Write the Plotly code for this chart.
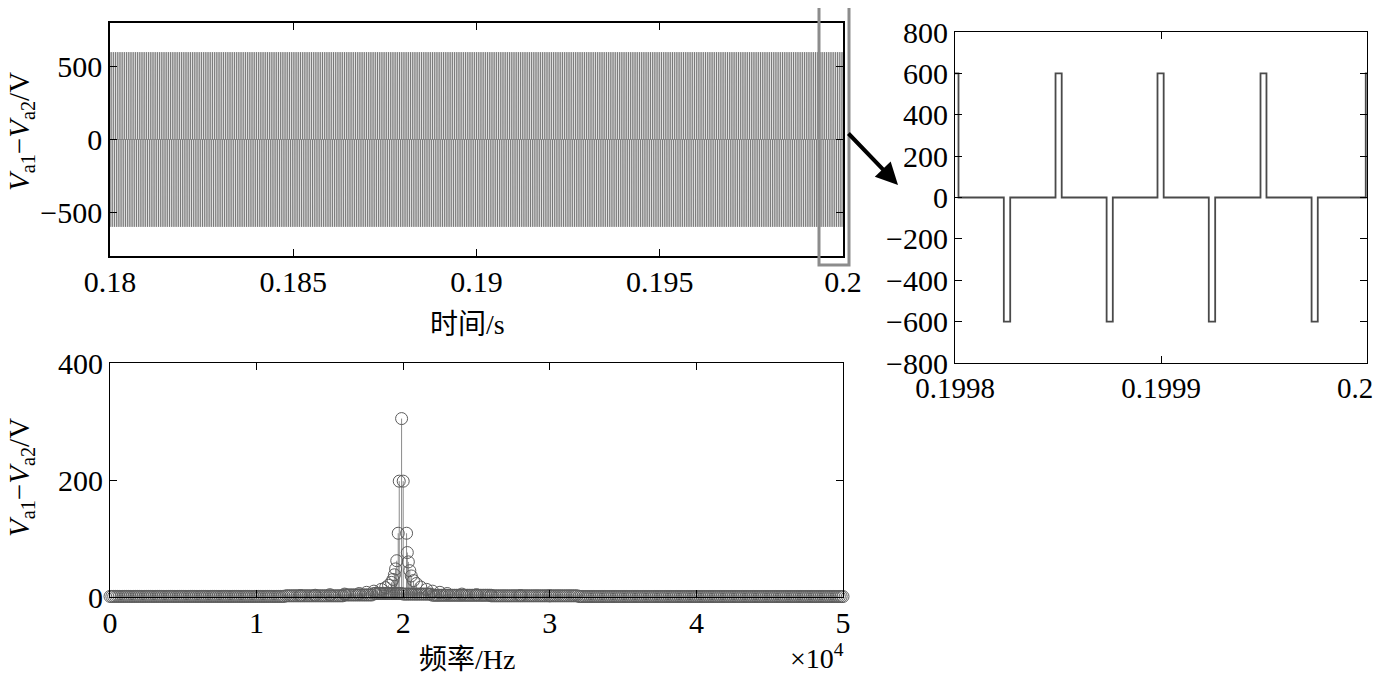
import plotly.graph_objects as go

W, H = 1384, 675
OFF = 8                      # page body margin in the viewer
FW, FH = W - OFF, H - OFF


def fx(x):
    return (x - OFF) / FW


def fy(y):
    return 1 - (y - OFF) / FH


# ---------------- data ----------------
# Time-domain pulse train (V_a1 - V_a2): alternating +/-600 V pulses, 25 us apart
pulse_amp_v = 600
pulse_spacing_us = 25.0              # +pulse, -pulse, +pulse ... (20 kHz carrier)
pulse_widths_us = [3.2, 3.0, 3.0, 3.1, 2.9, 3.0, 2.9, 3.0]   # read in the zoom panel
window_start_s = 0.18
window_end_s = 0.2

# Zoom panel (0.1998 .. 0.2 s) pulse edges, microseconds after 0.1998 s
zoom_origin_s = 0.1998
zoom_pos_pulses_us = [(-1.5, 1.7), (48.8, 51.8), (98.3, 101.3), (148.3, 151.2), (199.4, 202.5)]
zoom_neg_pulses_us = [(23.7, 26.8), (73.6, 76.6), (123.2, 126.3), (173.1, 176.1)]

# Spectrum: main cluster + skirt (Hz, V)
peak_freq_hz = [19890, 19730, 20000, 19660, 20230, 20280, 19560, 20350, 19480, 20450,
                19400, 20550, 19300, 20700, 19200, 20900, 19000, 21200, 18800, 21600,
                18500, 22000, 18000, 22500, 17500, 23000, 17000, 24000, 16000, 25000,
                15000, 26000, 14000, 28000, 13000, 30000]
peak_amp_v = [305, 198, 198, 109, 109, 76, 62, 60, 48, 45,
              38, 36, 30, 28, 25, 23, 20, 17, 16, 13,
              13, 10, 10, 8, 8, 6, 6, 5, 5, 4,
              4, 3, 3, 2.5, 2.5, 2]
# Baseline bins every 125 Hz from 0 to 50 kHz (run-length reading of the low band)
base_step_hz = 125
base_amp_runs = [(96, 1.0), (32, 2.0), (16, 3.5), (16, 6.0), (16, 5.0), (32, 3.0), (48, 2.0), (145, 0.8)]

# Tick labels
tl_x = [0.18, 0.185, 0.19, 0.195, 0.2]
tl_xtext = ["0.18", "0.185", "0.19", "0.195", "0.2"]
tl_y = [-500, 0, 500]
tl_ytext = ["\u2212500", "0", "500"]
tr_x = [0.1998, 0.1999, 0.2]
tr_xtext = ["0.1998", "0.1999", ""]       # last label drawn right-aligned below
tr_last_label = "0.2"
tr_y = [-800, -600, -400, -200, 0, 200, 400, 600, 800]
tr_ytext = ["\u2212800", "\u2212600", "\u2212400", "\u2212200", "0", "200", "400", "600", "800"]
b_x = [0, 10000, 20000, 30000, 40000, 50000]
b_xtext = ["0", "1", "2", "3", "4", "5"]
b_y = [0, 200, 400]
b_ytext = ["0", "200", "400"]

ylabel = "<i>V</i><sub>a1</sub>\u2212<i>V</i><sub>a2</sub>/V"

# ---------------- build traces ----------------
def pulses_to_xy(pulses):
    xs, ys = [], []
    for t0, t1, a in pulses:
        xs += [t0, t0, t1, t1]
        ys += [0, a, a, 0]
    return xs, ys

n_pulses = int(round((window_end_s - window_start_s) * 1e6 / pulse_spacing_us)) + 1
big = []
for k in range(n_pulses):
    c = window_start_s + k * pulse_spacing_us * 1e-6
    w = pulse_widths_us[k % len(pulse_widths_us)] * 1e-6
    a = pulse_amp_v if k % 2 == 0 else -pulse_amp_v
    big.append((c - w / 2, c + w / 2, a))
bx, by = pulses_to_xy(big)

zp = [(zoom_origin_s + a * 1e-6, zoom_origin_s + b * 1e-6, pulse_amp_v) for a, b in zoom_pos_pulses_us]
zn = [(zoom_origin_s + a * 1e-6, zoom_origin_s + b * 1e-6, -pulse_amp_v) for a, b in zoom_neg_pulses_us]
zall = sorted(zp + zn)
zx, zy = pulses_to_xy(zall)

base_amp = []
for n, v in base_amp_runs:
    base_amp += [v] * n
base_freq = [i * base_step_hz for i in range(len(base_amp))]

spec_f = base_freq + peak_freq_hz
spec_a = base_amp + peak_amp_v
stem_x, stem_y = [], []
for f, a in zip(spec_f, spec_a):
    stem_x += [f, f, None]
    stem_y += [0, a, None]

fig = go.Figure()
fig.add_trace(go.Scatter(x=bx, y=by, mode="lines", line=dict(color="#5e5e5e", width=0.6),
                         xaxis="x", yaxis="y", showlegend=False, hoverinfo="skip"))
fig.add_trace(go.Scatter(x=zx, y=zy, mode="lines", line=dict(color="#4a4a4a", width=1.8),
                         xaxis="x2", yaxis="y2", showlegend=False, hoverinfo="skip"))
fig.add_trace(go.Scatter(x=stem_x, y=stem_y, mode="lines", line=dict(color="#8a8a8a", width=1),
                         xaxis="x3", yaxis="y3", showlegend=False, hoverinfo="skip"))
fig.add_trace(go.Scatter(x=spec_f, y=spec_a, mode="markers", cliponaxis=False,
                         marker=dict(symbol="circle-open", size=12, color="#5c5c5c", line=dict(width=1)),
                         xaxis="x3", yaxis="y3", showlegend=False, hoverinfo="skip"))

FONT = "Liberation Serif, Times New Roman, Noto Sans CJK SC, serif"
TICKF = dict(family=FONT, size=30, color="black")


def ax(domain, rng, tv, tt, anchor, lw=1.5, standoff=0):
    return dict(domain=domain, range=rng, tickvals=tv, ticktext=tt, anchor=anchor,
                ticks="inside", ticklen=7, tickwidth=1, tickcolor="black",
                showline=True, linecolor="black", linewidth=lw, mirror="ticks",
                showgrid=False, zeroline=False, tickfont=TICKF, fixedrange=True,
                automargin=False, ticklabeloverflow="allow", ticklabelstandoff=standoff)


fig.update_layout(
    width=FW, height=FH, margin=dict(l=0, r=0, t=0, b=0, pad=0, autoexpand=False),
    paper_bgcolor="white", plot_bgcolor="white",
    xaxis=ax([fx(110), fx(843)], [0.18, 0.2], tl_x, tl_xtext, "y", 1.5, -2),
    yaxis=ax([fy(256), fy(23)], [-800, 800], tl_y, tl_ytext, "x", 1.5, 0),
    xaxis2=ax([fx(955), fx(1367)], [0.1998, 0.2], tr_x, tr_xtext, "y2", 1.0, -1),
    yaxis2=ax([fy(363), fy(32)], [-800, 800], tr_y, tr_ytext, "x2", 1.0, 0),
    xaxis3=ax([fx(110), fx(843)], [0, 50000], b_x, b_xtext, "y3", 1.0, -1),
    yaxis3=ax([fy(597), fy(363)], [0, 400], b_y, b_ytext, "x3", 1.0, 0),
)
fig.update_layout(xaxis2_tickfont_size=29)

# last tick label of the zoom panel, kept inside the page edge
fig.add_annotation(xref="paper", yref="paper", x=fx(1375), y=fy(388),
                   text=tr_last_label, showarrow=False, xanchor="right", yanchor="middle",
                   font=dict(family=FONT, size=29, color="black"))

fig.add_shape(type="rect", xref="paper", yref="paper",
              x0=fx(819), x1=fx(849), y0=fy(265), y1=fy(-2),
              line=dict(color="#8c8c8c", width=3))

fig.add_annotation(xref="paper", yref="paper", x=fx(898), y=fy(185),
                   ax=-51, ay=-53, text="", showarrow=True, arrowhead=2,
                   arrowsize=1.1, arrowwidth=4, arrowcolor="black")

for yc in (132, 478):
    fig.add_annotation(xref="paper", yref="paper", x=fx(21), y=fy(yc),
                       text=ylabel, textangle=-90, showarrow=False,
                       xanchor="center", yanchor="middle",
                       font=dict(family=FONT, size=29, color="black"))

fig.add_annotation(xref="paper", yref="paper", x=fx(467), y=fy(325),
                   text="时间/s", showarrow=False, xanchor="center", yanchor="middle",
                   font=dict(family=FONT, size=28, color="black"))
fig.add_annotation(xref="paper", yref="paper", x=fx(467), y=fy(659),
                   text="频率/Hz", showarrow=False, xanchor="center", yanchor="middle",
                   font=dict(family=FONT, size=28, color="black"))
fig.add_annotation(xref="paper", yref="paper", x=fx(817), y=fy(656),
                   text="\u00d710<sup>4</sup>", showarrow=False, xanchor="center", yanchor="middle",
                   font=dict(family=FONT, size=28, color="black"))

fig.write_html("out.html")
